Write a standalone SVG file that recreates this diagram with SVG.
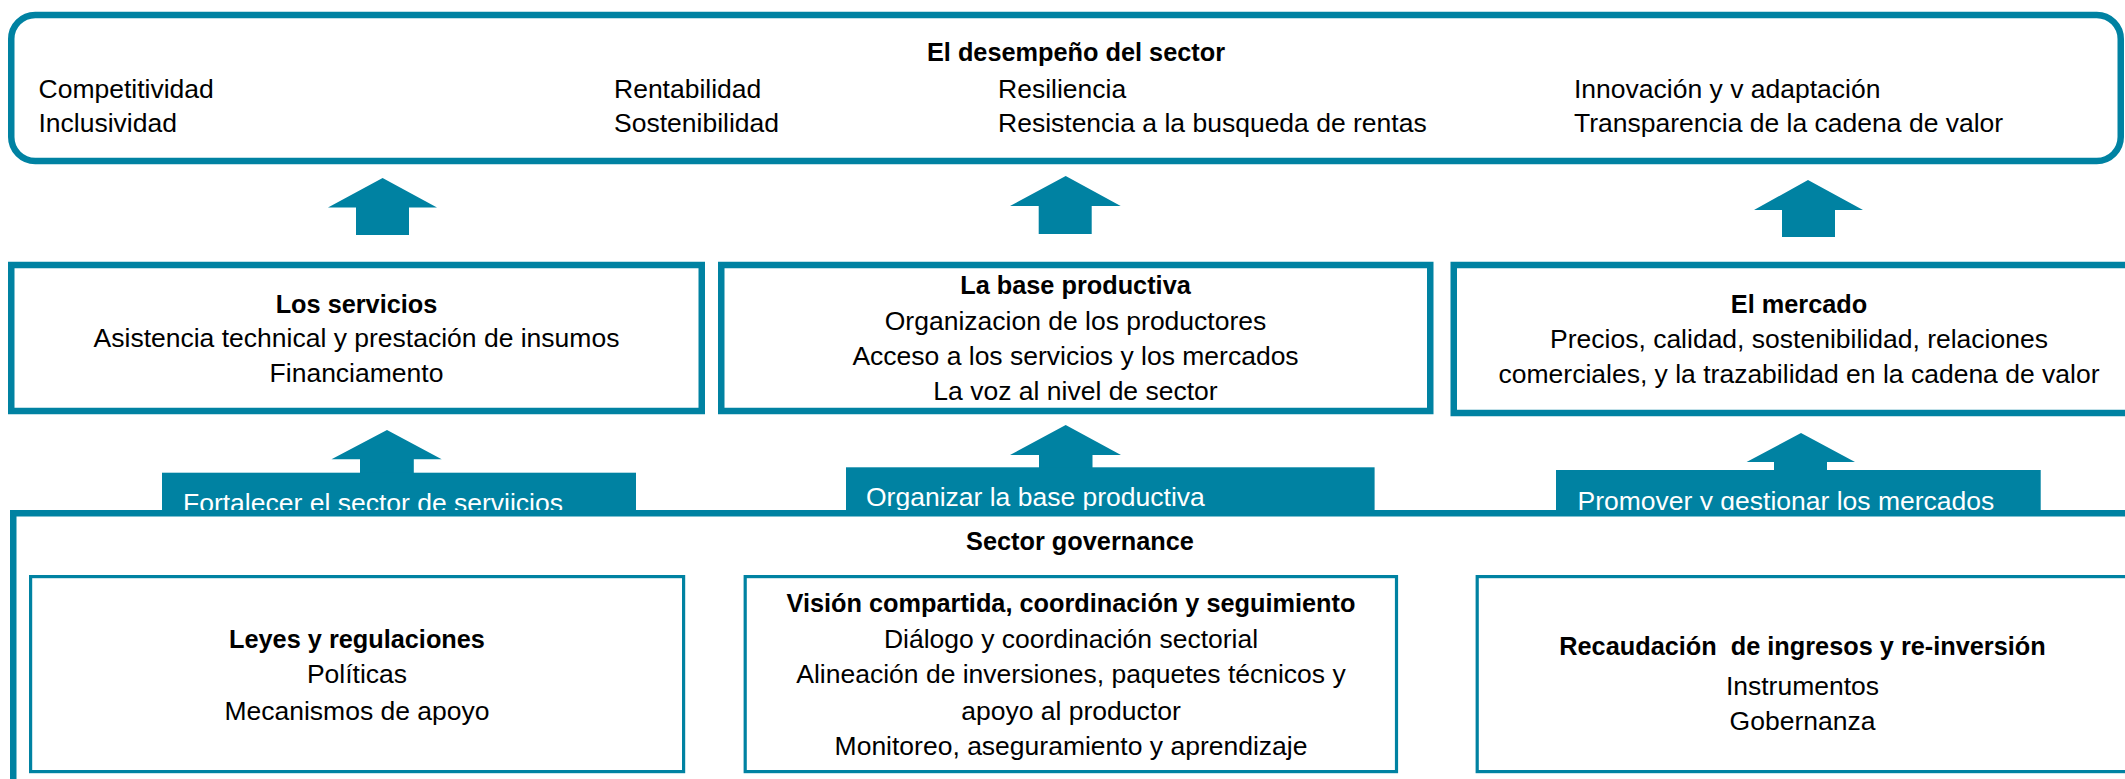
<svg xmlns="http://www.w3.org/2000/svg" width="2125" height="779" viewBox="0 0 2125 779">
<style>
  .box{fill:#ffffff;stroke:#0082A2;stroke-width:6.5}
  .inner{fill:#ffffff;stroke:#0082A2;stroke-width:3.2}
  .arrow{fill:#0082A2}
  .tab{fill:#0082A2}
  text{font-family:"Liberation Sans",Arial,sans-serif;font-size:26.5px;fill:#000000}
  .b{font-weight:bold;font-size:25.3px}
  .c{text-anchor:middle}
  .w{fill:#ffffff}
</style>
<rect x="0" y="0" width="2125" height="779" fill="#ffffff"/>

<g id="desempeno">
  <rect class="box" x="11.25" y="15" width="2109.5" height="146" rx="24" ry="24"/>
  <text class="b c" x="1076" y="61">El desempeño del sector</text>
  <text x="38.5" y="97.5">Competitividad</text>
  <text x="38.5" y="132">Inclusividad</text>
  <text x="614" y="97.5">Rentabilidad</text>
  <text x="614" y="132">Sostenibilidad</text>
  <text x="998" y="97.5">Resiliencia</text>
  <text x="998" y="132">Resistencia a la busqueda de rentas</text>
  <text x="1574" y="97.5">Innovación y v adaptación</text>
  <text x="1574" y="132">Transparencia de la cadena de valor</text>
</g>

<g id="servicios">
  <rect class="box" x="11.25" y="265" width="690.5" height="146"/>
  <text class="b c" x="356.5" y="312.7">Los servicios</text>
  <text class="c" x="356.5" y="347">Asistencia technical y prestación de insumos</text>
  <text class="c" x="356.5" y="382">Financiamento</text>
</g>

<g id="base-productiva">
  <rect class="box" x="721.25" y="265" width="709" height="146"/>
  <text class="b c" x="1075.5" y="294">La base productiva</text>
  <text class="c" x="1075.5" y="330">Organizacion de los productores</text>
  <text class="c" x="1075.5" y="365">Acceso a los servicios y los mercados</text>
  <text class="c" x="1075.5" y="400">La voz al nivel de sector</text>
</g>

<g id="mercado">
  <rect class="box" x="1453.75" y="265" width="691" height="148"/>
  <text class="b c" x="1799" y="313">El mercado</text>
  <text class="c" x="1799" y="348">Precios, calidad, sostenibilidad, relaciones</text>
  <text class="c" x="1799" y="383">comerciales, y la trazabilidad en la cadena de valor</text>
</g>

<g id="connectors">
  <polygon class="arrow" points="382.6,178 437,207.5 409,207.5 409,235 356,235 356,207.5 328,207.5"/>
  <polygon class="arrow" points="1065.7,176 1120.7,206 1091.7,206 1091.7,234 1038.7,234 1038.7,206 1010,206"/>
  <polygon class="arrow" points="1808,180 1863,210 1835,210 1835,237 1782,237 1782,210 1754,210"/>
  <polygon class="arrow" points="387,430 441.7,459.3 413.8,459.3 413.8,473 360,473 360,459.3 331.5,459.3"/>
  <polygon class="arrow" points="1065.7,425 1121,455 1092.5,455 1092.5,468 1039,468 1039,455 1010,455"/>
  <polygon class="arrow" points="1801,433 1855,462 1827,462 1827,471 1774,471 1774,462 1746.6,462"/>
</g>

<g id="tab-servicios">
  <rect class="tab" x="162" y="472.7" width="474" height="42"/>
  <text class="w" x="183" y="511.5">Fortalecer el sector de serviicios</text>
</g>
<g id="tab-base">
  <rect class="tab" x="846" y="467.3" width="528.6" height="47"/>
  <text class="w" x="866" y="506">Organizar la base productiva</text>
</g>
<g id="tab-mercados">
  <rect class="tab" x="1556" y="470" width="484.7" height="44"/>
  <text class="w" x="1577.5" y="510">Promover y gestionar los mercados</text>
</g>

<g id="sector-governance">
  <rect class="box" x="13.25" y="513.25" width="2140" height="320"/>
  <text class="b c" x="1080" y="550">Sector governance</text>
</g>

<g id="leyes">
  <rect class="inner" x="30.6" y="576.6" width="653" height="195"/>
  <text class="b c" x="357" y="648">Leyes y regulaciones</text>
  <text class="c" x="357" y="683.3">Políticas</text>
  <text class="c" x="357" y="720">Mecanismos de apoyo</text>
</g>

<g id="vision">
  <rect class="inner" x="745.2" y="576.6" width="651.3" height="195"/>
  <text class="b c" x="1071" y="611.7">Visión compartida, coordinación y seguimiento</text>
  <text class="c" x="1071" y="647.7">Diálogo y coordinación sectorial</text>
  <text class="c" x="1071" y="683">Alineación de inversiones, paquetes técnicos y</text>
  <text class="c" x="1071" y="720">apoyo al productor</text>
  <text class="c" x="1071" y="755">Monitoreo, aseguramiento y aprendizaje</text>
</g>

<g id="recaudacion">
  <rect class="inner" x="1477.2" y="576.6" width="652" height="195"/>
  <text class="b c" x="1802.5" y="655" xml:space="preserve">Recaudación  de ingresos y re-inversión</text>
  <text class="c" x="1802.5" y="695">Instrumentos</text>
  <text class="c" x="1802.5" y="730">Gobernanza</text>
</g>
</svg>
